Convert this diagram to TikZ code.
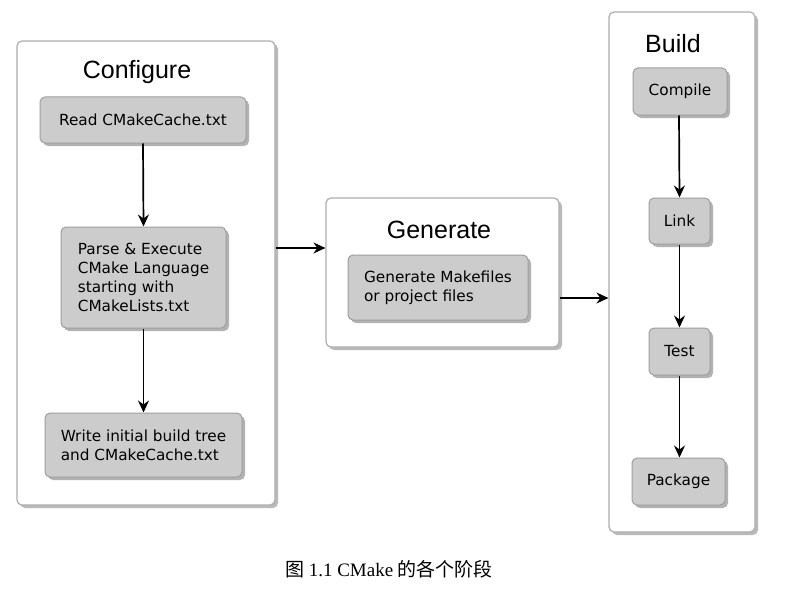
\documentclass[tikz,border=0pt]{standalone}
\usepackage{fontspec}
\setmainfont{Liberation Serif}
\newfontfamily\boxfont{DejaVu Sans}
\newfontfamily\titlefont{Liberation Sans}
\newfontfamily\cjkfont{Noto Sans CJK SC}
\usetikzlibrary{shadows,arrows.meta}
\tikzset{
  container/.style={draw=black!32, fill=white, rounded corners=5pt, line width=1.2pt,
    drop shadow={shadow xshift=3pt, shadow yshift=-3pt, fill=black!45, opacity=0.6},
    inner sep=0pt},
  stepbox/.style={draw=black!38, fill=black!20, rounded corners=5pt, line width=1pt,
    drop shadow={shadow xshift=3pt, shadow yshift=-3pt, fill=black!50, opacity=0.6},
    font=\boxfont\fontsize{15.3}{19}\selectfont, align=left, inner sep=0pt},
  titletext/.style={font=\titlefont\fontsize{25}{28}\selectfont, inner sep=0pt},
  arr/.style={line width=1.7pt, -{Stealth[length=12pt,width=11pt,inset=4pt]}}
}
\begin{document}
\begin{tikzpicture}[x=1pt,y=-1pt]
\useasboundingbox (0,0) rectangle (791,599);
% containers
\node[container, minimum width=258pt, minimum height=464pt] (cfg) at (146,273) {};
\node[container, minimum width=233pt, minimum height=149pt] (gen) at (442.5,272.5) {};
\node[container, minimum width=146pt, minimum height=520pt] (build) at (682,272) {};
% titles
\node[titletext] (cfgtitle) at (137,72) {Configure};
\node[titletext] (gentitle) at (439,230) {Generate};
\node[titletext] (buildtitle) at (673,44) {Build};
% configure steps
\node[stepbox, minimum width=206pt, minimum height=46pt] (read) at (143,120) {Read CMakeCache.txt};
\node[stepbox, minimum width=165pt, minimum height=101pt] (parse) at (143.5,277.5) {Parse \& Execute\\CMake Language\\starting with\\CMakeLists.txt};
\node[stepbox, minimum width=197pt, minimum height=64pt] (write) at (143.5,445) {Write initial build tree\\and CMakeCache.txt};
% generate step
\node[stepbox, minimum width=180pt, minimum height=65pt] (genbox) at (438,287.5) {Generate Makefiles\\or project files};
% build steps
\node[stepbox, minimum width=94pt, minimum height=47pt] (compile) at (680,91.5) {Compile};
\node[stepbox, minimum width=61pt, minimum height=46pt] (link) at (679.5,221) {Link};
\node[stepbox, minimum width=61pt, minimum height=47pt] (test) at (679.5,351.5) {Test};
\node[stepbox, minimum width=93pt, minimum height=47pt] (package) at (678.5,481.5) {Package};
% arrows
\draw[arr] (read.south) -- (parse.north);
\draw[arr] (parse.south) -- (write.north);
\draw[arr] ([xshift=-1pt]compile.south) -- (link.north);
\draw[arr] (link.south) -- (test.north);
\draw[arr] (test.south) -- (test.south |- package.north);
\coordinate (c1) at ([yshift=25pt]cfg.east);
\draw[arr] (c1) -- (c1 -| gen.west);
\coordinate (c2) at ([yshift=-25.5pt]gen.east);
\draw[arr] (c2) -- (c2 -| build.west);
% caption
\node[font=\fontsize{19}{22}\selectfont, inner sep=0pt] (caption) at (389,569) {{\cjkfont 图} 1.1 CMake {\cjkfont 的各个阶段}};
\end{tikzpicture}
\end{document}
